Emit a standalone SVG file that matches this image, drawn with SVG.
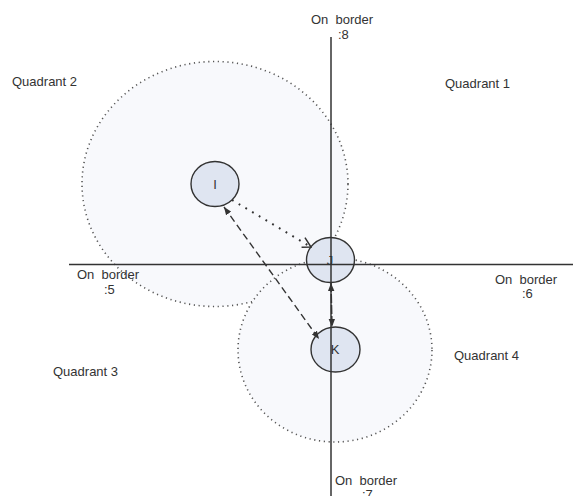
<svg xmlns="http://www.w3.org/2000/svg" width="573" height="496" viewBox="0 0 573 496">
<style>
  text { font-family: "Liberation Sans", Arial, sans-serif; font-size: 13px; fill: #333; white-space: pre; }
  .zone { fill: #f8f9fc; stroke: #555; stroke-width: 1.6; stroke-dasharray: 1.2 3.6; }
  .node { fill: #dfe5f1; stroke: #333; stroke-width: 1.4; }
  .axis { stroke: #333; stroke-width: 1.5; fill: none; }
  .lbl { text-anchor: middle; }
  .dotted { stroke: #333; stroke-width: 2; stroke-dasharray: 1.8 6; fill: none; }
  .dashed { stroke: #333; stroke-width: 1.4; stroke-dasharray: 7 4; fill: none; }
  .vk { stroke: #333; stroke-width: 1.5; stroke-dasharray: 9 2; fill: none; }
</style>
<defs>
  <marker id="fa" viewBox="0 0 10 10" refX="10" refY="5" markerWidth="8" markerHeight="8" markerUnits="userSpaceOnUse" orient="auto-start-reverse">
    <path d="M0,1 L10,5 L0,9 z" fill="#333"/>
  </marker>
  <marker id="oa" viewBox="0 0 12 12" refX="11" refY="6" markerWidth="12" markerHeight="12" markerUnits="userSpaceOnUse" orient="auto">
    <path d="M1,1 L11,6 L3,11" fill="none" stroke="#333" stroke-width="1.5"/>
  </marker>
</defs>

<g id="zones">
  <ellipse class="zone" cx="215" cy="184" rx="133" ry="122.5"/>
  <ellipse class="zone" cx="335" cy="350" rx="97" ry="92"/>
</g>

<g id="labels">
  <text x="311" y="24">On  border</text>
  <text x="338" y="39">:8</text>
  <text x="12" y="86">Quadrant 2</text>
  <text x="445" y="88">Quadrant 1</text>
  <text x="77" y="278.5">On  border</text>
  <text x="104" y="293.5">:5</text>
  <text x="495" y="283.5">On  border</text>
  <text x="522" y="298">:6</text>
  <text x="454" y="360">Quadrant 4</text>
  <text x="53" y="376">Quadrant 3</text>
  <text x="335" y="485">On  border</text>
  <text x="362" y="499">:7</text>
</g>

<g id="node-I">
  <ellipse class="node" cx="215" cy="184" rx="24" ry="22.5"/>
  <text class="lbl" x="215" y="189">I</text>
</g>
<g id="node-J">
  <ellipse class="node" cx="330.5" cy="260" rx="24" ry="22.5"/>
  <text class="lbl" x="330" y="265">J</text>
</g>
<g id="node-K">
  <ellipse class="node" cx="335.5" cy="349.5" rx="24.5" ry="22.5"/>
  <text class="lbl" x="335" y="354">K</text>
</g>

<g id="axes">
  <line class="axis" x1="69" y1="264.5" x2="573" y2="264.5"/>
  <line class="axis" x1="331" y1="37" x2="331" y2="496"/>
</g>

<g id="connectors">
  <line class="dotted" x1="232" y1="200" x2="311" y2="247" marker-end="url(#oa)"/>
  <line class="dashed" x1="224" y1="207" x2="319" y2="339" marker-start="url(#fa)" marker-end="url(#fa)"/>
  <line class="vk" x1="331" y1="283" x2="332" y2="327" marker-start="url(#fa)" marker-end="url(#fa)"/>
</g>
</svg>
